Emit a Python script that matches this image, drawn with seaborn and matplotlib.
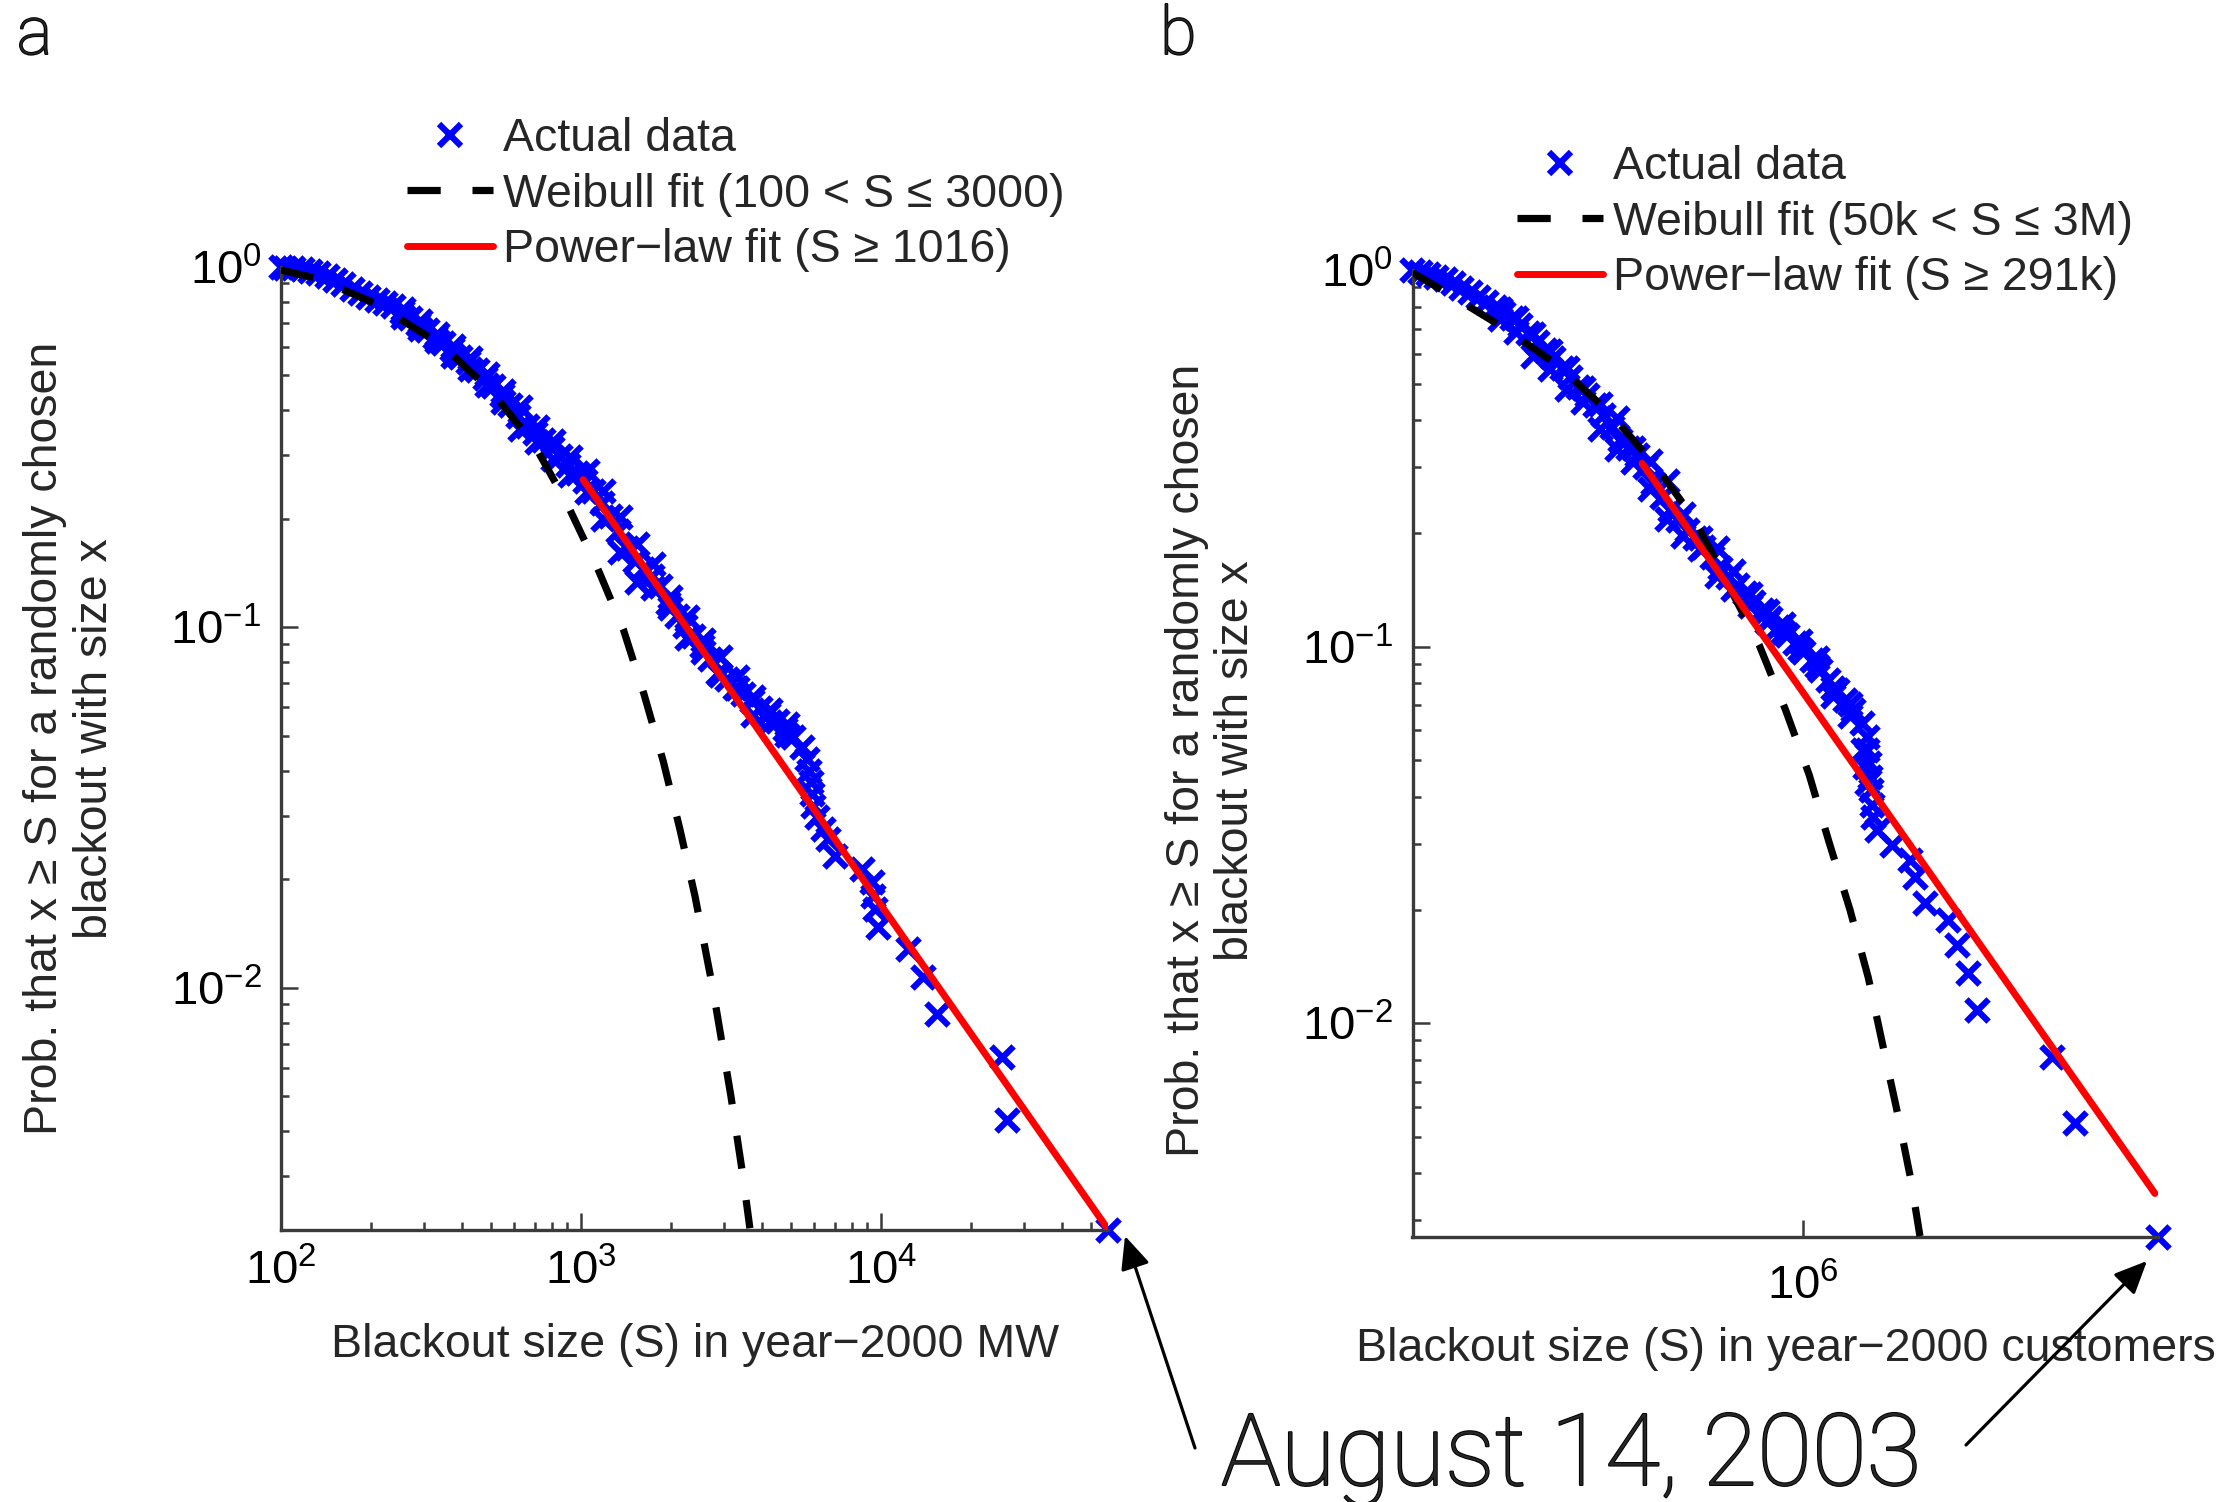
import numpy as np
import pandas as pd
import matplotlib
matplotlib.use("Agg")
import matplotlib.pyplot as plt
import matplotlib.patheffects as pe
import seaborn as sns
from matplotlib.lines import Line2D
from matplotlib.patches import FancyArrowPatch
from matplotlib.ticker import LogLocator, FixedLocator, NullLocator, NullFormatter

# ---------------- data ----------------
# Panel a: blackout sizes in year-2000 MW and complementary CDF (centre of the marker band)
sizes_a = [100, 103.1, 110.0, 117.2, 124.9, 133.2, 142.0, 151.4, 161.4, 172.0,
           183.4, 195.5, 208.4, 222.2, 236.8, 252.5, 269.2, 287.0, 305.9, 326.1,
           347.6, 370.6, 395.1, 421.2, 449.0, 478.6, 510.3, 544.0, 579.9, 618.2,
           659.0, 702.6, 749.0, 798.5, 851.1, 907.4, 967.3, 1031, 1099, 1172,
           1249, 1332, 1420, 1514, 1614, 1720, 1834, 1955, 2084, 2222,
           2368, 2525, 2692, 2870,
           3059, 3261, 3476, 3706, 3951, 4211, 4490, 4786, 5102, 5439,
           5652, 5769, 5829, 5874, 5919,
           6105, 6424, 6675,
           7026, 8626, 9311, 9426, 9550, 9795, 12330, 13836, 15340, 25260, 26240, 57250]
prob_a = [1.0, 0.9936, 0.9915, 0.9873, 0.9769, 0.9645, 0.9442, 0.9205, 0.8953, 0.8709,
          0.8489, 0.8275, 0.8101, 0.7965, 0.7814, 0.7520, 0.7207, 0.6951, 0.6690, 0.6411,
          0.6170, 0.5914, 0.5643, 0.5433, 0.5185, 0.4916, 0.4661, 0.4419, 0.4147, 0.3848,
          0.3611, 0.3461, 0.3317, 0.3145, 0.2982, 0.2828, 0.2681, 0.2542, 0.2385, 0.2214,
          0.2034, 0.1849, 0.1662, 0.1527, 0.1448, 0.1388, 0.1302, 0.1171, 0.1075, 0.1009,
          0.09463, 0.08876, 0.08153, 0.07487,
          0.07179, 0.06806, 0.06522, 0.06251, 0.05990, 0.05741, 0.05502, 0.05217, 0.04947, 0.04643,
          0.04309, 0.04000, 0.03714, 0.03447, 0.03200,
          0.02970, 0.02758, 0.02587,
          0.02325, 0.02136, 0.01963, 0.01802, 0.01655, 0.01473, 0.01282, 0.01071, 0.00847,
          0.00643, 0.00429, 0.002126]
# markers along the upper and lower edges of the dense band
band_a_size = [255.7, 290.6, 330.3, 375.4, 426.6, 484.8, 551.0, 626.1, 711.5, 808.8,
               919.0, 1044, 1187, 1349, 1533, 1742, 1980, 2250, 2557,
               255.7, 290.6, 330.3, 375.4, 426.6, 484.8, 551.0, 626.1, 711.5, 808.8,
               919.0, 1044, 1187, 1349, 1533, 1742, 1980, 2250, 2557,
               2906, 2906, 3303, 3303, 3753, 3753, 4266, 4266, 4850, 4850]
band_a_prob = [0.7633, 0.7086, 0.6508, 0.6041, 0.5607, 0.5044, 0.4533, 0.4077, 0.3588, 0.3296,
               0.2963, 0.2722, 0.2395, 0.2021, 0.1705, 0.1501, 0.1213, 0.1068, 0.09204,
               0.7254, 0.6733, 0.6251, 0.5679, 0.5218, 0.4691, 0.4218, 0.3557, 0.3268, 0.2938,
               0.2642, 0.2375, 0.2004, 0.1621, 0.1338, 0.1282, 0.1129, 0.09322, 0.08560,
               0.08276, 0.07379, 0.07286, 0.06779, 0.06414, 0.05717, 0.05888, 0.05477, 0.05408, 0.05030]
weibull_a_size = [100, 131.5, 203.2, 343.2, 499.7, 693.6, 895.9, 1128, 1384, 1622,
                  1881, 2138, 2399, 2748, 3161, 3466, 3656]
weibull_a_prob = [0.981, 0.930, 0.7966, 0.6079, 0.4543, 0.3247, 0.2214, 0.1479, 0.0987, 0.06522,
                  0.04245, 0.02746, 0.01795, 0.0100, 0.0050, 0.0030, 0.00215]
power_a_size = [1016, 57250]
power_a_prob = [0.257, 0.00213]

# Panel b: blackout sizes in year-2000 customers
sizes_b = [50000, 52900, 56380, 60100, 64090, 68290, 72810, 77620, 82760, 88220,
           94040, 100260, 106880, 113950, 121460, 129500, 138040, 147160, 156900, 167240,
           178300, 190060, 202640, 216000, 230300, 245470, 261710, 279000, 297400, 317000,
           338000, 360400, 384200, 409500, 436500, 465400, 496100, 528800, 563800, 601000,
           640800, 683000, 728200, 776200, 827500, 882100, 940400, 1002600, 1068800, 1139500,
           1214700,
           1295000, 1380400, 1472000, 1569000, 1630000, 1640000, 1655000, 1668000, 1680000,
           1694000, 1707000, 1761000, 1975000, 2273000, 2362000,
           2551000, 3051000, 3253000, 3557000, 3792000, 6744000, 8065000, 15290000]
prob_b = [1.0, 0.9870, 0.9770, 0.9612, 0.9457, 0.9228, 0.8988, 0.8734, 0.8505, 0.8248,
          0.8000, 0.7712, 0.7449, 0.7151, 0.6796, 0.6458, 0.6137, 0.5832, 0.5486, 0.5214,
          0.4905, 0.4661, 0.4385, 0.4125, 0.3840, 0.3539, 0.3363, 0.3229, 0.3007, 0.2716,
          0.2503, 0.2307, 0.2171, 0.2042, 0.1940, 0.1843, 0.1734, 0.1615, 0.1535, 0.1459,
          0.1386, 0.1317, 0.1252, 0.1189, 0.1130, 0.1074, 0.1021, 0.0970, 0.0922, 0.0867,
          0.0816,
          0.07674, 0.07219, 0.06792, 0.06256, 0.05768, 0.05315, 0.04900, 0.04517, 0.04164,
          0.0379, 0.0352, 0.0325, 0.0298, 0.0271, 0.02439,
          0.02082, 0.01879, 0.01613, 0.01356, 0.01084, 0.00815, 0.00542, 0.00271]
band_b_size = [97720, 111060, 126240, 143440, 163010, 185260, 210540, 239290, 271940, 309030,
               351200, 399130, 453630, 515500, 585800, 665800, 756700, 859900, 977200, 1110600,
               97720, 111060, 126240, 143440, 163010, 185260, 210540, 239290, 271940, 309030,
               351200, 399130, 453630, 515500, 585800, 665800, 756700, 859900, 977200, 1110600,
               1262000, 1262000, 1434000, 1434000, 1589000, 1609000, 1630000]
band_b_prob = [0.7870, 0.7480, 0.6757, 0.6100, 0.5509, 0.4875, 0.4403, 0.4058, 0.3377, 0.3113,
               0.2755, 0.2247, 0.1948, 0.1832, 0.1589, 0.1377, 0.1244, 0.1146, 0.1038, 0.0935,
               0.7419, 0.6840, 0.5929, 0.5464, 0.4835, 0.4456, 0.3787, 0.3349, 0.3088, 0.2623,
               0.2184, 0.1972, 0.1817, 0.1544, 0.1423, 0.1285, 0.1161, 0.1092, 0.0988, 0.0891,
               0.07784, 0.07413, 0.07029, 0.06558, 0.05315, 0.04801, 0.04335]
weibull_b_size = [50000, 60100, 101500, 154900, 230300, 325200, 436500, 556600, 715200, 875400,
                  1050000, 1224000, 1434000, 1651000, 1843000, 2068000, 2291000, 2455000]
weibull_b_prob = [0.985, 0.9042, 0.7006, 0.5542, 0.4125, 0.3007, 0.2171, 0.1489, 0.1010, 0.06792,
                  0.04562, 0.03015, 0.02006, 0.01323, 0.00879, 0.00576, 0.00383, 0.00272]
power_b_size = [291000, 14900000]
power_b_prob = [0.307, 0.00353]

labels_a = ["Actual data", "Weibull fit (100 < S ≤ 3000)", "Power−law fit (S ≥ 1016)"]
labels_b = ["Actual data", "Weibull fit (50k < S ≤ 3M)", "Power−law fit (S ≥ 291k)"]
xlabel_a = "Blackout size (S) in year−2000 MW"
xlabel_b = "Blackout size (S) in year−2000 customers"
ylabel = "Prob. that x ≥ S for a randomly chosen\nblackout with size x"
annotation = "August 14, 2003"

# ---------------- style ----------------
sns.set_style("ticks")
plt.rcParams["font.family"] = ["Liberation Sans", "DejaVu Sans"]
plt.rcParams["mathtext.fontset"] = "custom"
plt.rcParams["mathtext.rm"] = "Liberation Sans"
plt.rcParams["mathtext.it"] = "Liberation Sans:italic"
plt.rcParams["mathtext.bf"] = "Liberation Sans:bold"

W, H = 2239, 1502
fig = plt.figure(figsize=(W / 100, H / 100), dpi=100)
fig.patch.set_facecolor("white")


def px_axes(l, t, r, b):
    return fig.add_axes([l / W, 1 - b / H, (r - l) / W, (b - t) / H])


ax_a = px_axes(281, 267, 1108.3, 1230)
ax_b = px_axes(1412.5, 270.2, 2158.3, 1236.7)

BLUE, RED, BLACK = "#0000ff", "#ff0000", "black"
DASH = (0, (4.6, 4.4))
FS = 33.5
MS = 16
MEW = 4.5
LIGHT = dict(family=["Roboto", "Lato", "DejaVu Sans"], weight="light",
             path_effects=[pe.withStroke(linewidth=1.4, foreground="black")])


def draw(ax, S, P, bS, bP, wS, wP, pS, pP):
    df = pd.DataFrame({"S": list(S) + list(bS), "P": list(P) + list(bP)})
    sns.scatterplot(data=df, x="S", y="P", ax=ax, marker="x", s=MS ** 2, color=BLUE,
                    linewidth=MEW, clip_on=False, zorder=2, legend=False)
    sns.lineplot(x=wS, y=wP, ax=ax, color=BLACK, lw=5.2, linestyle=DASH,
                 estimator=None, sort=False, zorder=3, legend=False)
    sns.lineplot(x=pS, y=pP, ax=ax, color=RED, lw=5.0,
                 estimator=None, sort=False, zorder=3, legend=False)
    ax.set_xscale("log")
    ax.set_yscale("log")
    ax.set_xlim(min(S), max(S))
    ax.set_ylim(min(P), 1.0)
    sns.despine(ax=ax)
    for sp in ("left", "bottom"):
        ax.spines[sp].set_color("#3a3a3a")
        ax.spines[sp].set_linewidth(2.4)
    ax.tick_params(which="both", direction="in", color="#3a3a3a", width=1.8, labelcolor="black")
    ax.tick_params(which="major", length=12, labelsize=34)
    ax.tick_params(which="minor", length=6)
    ax.yaxis.set_major_locator(LogLocator(base=10, numticks=10))
    ax.yaxis.set_minor_locator(LogLocator(base=10, subs=np.arange(2, 10), numticks=10))
    ax.yaxis.set_minor_formatter(NullFormatter())
    ax.set_xlabel("")
    ax.set_ylabel("")


draw(ax_a, sizes_a, prob_a, band_a_size, band_a_prob,
     weibull_a_size, weibull_a_prob, power_a_size, power_a_prob)
draw(ax_b, sizes_b, prob_b, band_b_size, band_b_prob,
     weibull_b_size, weibull_b_prob, power_b_size, power_b_prob)

ax_a.xaxis.set_major_locator(LogLocator(base=10, numticks=10))
ax_a.xaxis.set_minor_locator(LogLocator(base=10, subs=np.arange(2, 10), numticks=10))
ax_a.xaxis.set_minor_formatter(NullFormatter())
ax_b.xaxis.set_major_locator(FixedLocator([1e6]))
ax_b.xaxis.set_minor_locator(NullLocator())

ax_a.tick_params(axis="x", pad=14)
ax_a.tick_params(axis="y", pad=14)
ax_b.tick_params(axis="x", pad=20)
ax_b.tick_params(axis="y", pad=14)

for ax, xl, xc, yc, yy in ((ax_a, xlabel_a, -0.1194, -0.255, 0.51),
                           (ax_b, xlabel_b, -0.1167, -0.270, 0.493)):
    ax.set_xlabel(xl, fontsize=FS)
    ax.xaxis.set_label_coords(0.5, xc)
    ax.xaxis.label.set_va("center")
    ax.set_ylabel(ylabel, fontsize=FS, linespacing=1.15)
    ax.yaxis.set_label_coords(yc, yy)
    ax.yaxis.label.set_va("center")


# legends
def handles():
    return [Line2D([], [], ls="none", marker="x", color=BLUE, ms=MS, mew=MEW),
            Line2D([], [], color=BLACK, lw=5.2, ls=DASH),
            Line2D([], [], color=RED, lw=5.0)]


for ax, labs, lx, ty in ((ax_a, labels_a, 407, 117), (ax_b, labels_b, 1517, 145)):
    ax.legend(handles(), labs, loc="upper left", bbox_to_anchor=(lx / W, 1 - ty / H),
              bbox_transform=fig.transFigure, frameon=False, fontsize=FS,
              handlelength=1.85, handletextpad=0.22, labelspacing=0.25,
              borderpad=0, borderaxespad=0)

# panel letters
fig.text(17 / W, 1 - 54 / H, "a", fontsize=48, ha="left", va="baseline", **LIGHT)
fig.text(1160 / W, 1 - 54 / H, "b", fontsize=48, ha="left", va="baseline", **LIGHT)

# annotation
fig.text(1221 / W, 1 - 1485 / H, annotation, fontsize=72, ha="left", va="baseline", **LIGHT)
for (tx, ty), (hx, hy) in (((1195, 1448), (1125, 1236)), ((1966, 1445), (2147, 1261))):
    arr = FancyArrowPatch((tx / W, 1 - ty / H), (hx / W, 1 - hy / H), transform=fig.transFigure,
                          arrowstyle="-|>,head_length=1.0,head_width=0.45", mutation_scale=20,
                          lw=2.3, color="black", shrinkA=0, shrinkB=0)
    fig.add_artist(arr)

fig.savefig("out.png", dpi=100, facecolor="white")
